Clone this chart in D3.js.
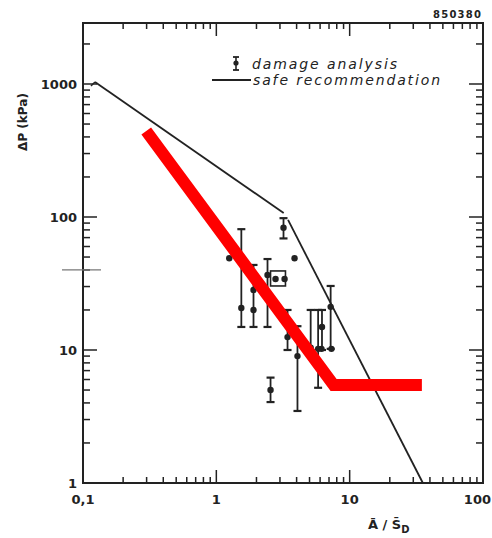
<!DOCTYPE html>
<html>
<head>
<meta charset="utf-8">
<script src="https://cdn.jsdelivr.net/npm/d3@7"></script>
<style>
  body { margin: 0; background: #fff; }
  text { font-family: "DejaVu Sans", sans-serif; fill: #222; }
</style>
</head>
<body>
<div id="myChart"></div>
<script>
// data
const xTicks = [0.1, 1, 10, 100];
const xTickLabels = ["0,1", "1", "10", "100"];
const yTicks = [1, 10, 100, 1000];
const yTickLabels = ["1", "10", "100", "1000"];

// damage analysis: x, y, error low, error high (null = no bar)
const damageX =    [3.19, 1.25, 3.86, 1.54, 1.90, 1.90, 2.42, 2.55, 3.42, 4.06, 2.78, 3.25, 7.2,  7.3,  6.2,  6.15, 5.8,  5.1];
const damageY =    [83,   49,   49,   20.7, 28.3, 20.0, 36.6, 5.0,  12.5, 9.0,  34.2, 34.2, 21.1, 10.2, 14.9, 10.2, 10.2, 10.4];
const damageLow =  [69,   null, null, 14.9, 14.9, null, 14.9, 4.06, 10,   3.48, null, null, 10.2, null, 10,   null, 5.2,  10];
const damageHigh = [98,   null, null, 81,   43.6, null, 48.3, 6.2,  20,   15.1, null, null, 30.3, null, 20,   null, 20,   20];

// box round the pair of points near 3
const boxX = [2.55, 3.30];
const boxY = [30.3, 39.3];

// safe recommendation (two pieces, small break at the knee)
const safeA = [[0.123, 1035], [3.2, 107]];
const safeB = [[3.45, 95], [35.4, 1]];

// red overlay line
const redLine = [[0.298, 443], [7.58, 5.46], [34.8, 5.46]];

let margin = {top: 23, right: 9, bottom: 55, left: 83},
    width = 492 - margin.left - margin.right,
    height = 538 - margin.top - margin.bottom;

let root = d3.select("#myChart")
  .append("svg")
    .attr("width", 492)
    .attr("height", 538);

let svg = root.append("g")
    .attr("transform", `translate(${margin.left}, ${margin.top})`);

const x = d3.scaleLog().domain([0.1, 100]).range([0, width]);
const y = d3.scaleLog().domain([1, 2875]).range([height, 0]);

const ink = "#222";

// minor ticks 2..9 per decade
const minorX = [];
[0.1, 1, 10].forEach(d => { for (let k = 2; k <= 9; k++) minorX.push(d * k); });
const minorY = [];
[1, 10, 100, 1000].forEach(d => { for (let k = 2; k <= 9; k++) if (d * k < 2875) minorY.push(d * k); });

// inward ticks on all four sides
const xb = svg.append("g").attr("transform", `translate(0, ${height})`);
xb.selectAll("line").data(xTicks.concat(minorX)).join("line")
  .attr("x1", d => x(d)).attr("x2", d => x(d))
  .attr("y1", 0).attr("y2", d => xTicks.includes(d) ? -13 : -6)
  .attr("stroke", ink).attr("stroke-width", 1.5);

const xt = svg.append("g");
xt.selectAll("line").data(xTicks.concat(minorX)).join("line")
  .attr("x1", d => x(d)).attr("x2", d => x(d))
  .attr("y1", 0).attr("y2", d => xTicks.includes(d) ? 13 : 6)
  .attr("stroke", ink).attr("stroke-width", 1.5);

const yl = svg.append("g");
yl.selectAll("line").data(yTicks.concat(minorY)).join("line")
  .attr("y1", d => y(d)).attr("y2", d => y(d))
  .attr("x1", 0).attr("x2", d => yTicks.includes(d) ? 14 : 7)
  .attr("stroke", ink).attr("stroke-width", 1.5);

const yr = svg.append("g").attr("transform", `translate(${width}, 0)`);
yr.selectAll("line").data(yTicks.concat(minorY)).join("line")
  .attr("y1", d => y(d)).attr("y2", d => y(d))
  .attr("x1", 0).attr("x2", d => yTicks.includes(d) ? -14 : -7)
  .attr("stroke", ink).attr("stroke-width", 1.5);

// frame
svg.append("rect")
  .attr("x", 0).attr("y", 0)
  .attr("width", width).attr("height", height)
  .attr("fill", "none").attr("stroke", ink).attr("stroke-width", 2);

// tick labels (last one pulled in so it stays on the page)
svg.selectAll(".xlab").data(xTicks).join("text")
  .attr("class", "xlab")
  .attr("x", (d, i) => i === xTicks.length - 1 ? x(d) + 8 : x(d))
  .attr("y", height + 21)
  .attr("text-anchor", (d, i) => i === xTicks.length - 1 ? "end" : "middle")
  .attr("font-size", "13px").attr("font-weight", "bold")
  .text((d, i) => xTickLabels[i]);

svg.selectAll(".ylab").data(yTicks).join("text")
  .attr("class", "ylab")
  .attr("x", -6).attr("y", d => y(d) + 5)
  .attr("text-anchor", "end")
  .attr("font-size", "13px").attr("font-weight", "bold")
  .text((d, i) => yTickLabels[i]);

// stray scan mark on the left axis
svg.append("line")
  .attr("x1", -21).attr("x2", 18)
  .attr("y1", y(40)).attr("y2", y(40))
  .attr("stroke", "#777").attr("stroke-width", 1.2);

// axis titles
root.append("text")
  .attr("transform", "translate(27, 122) rotate(-90)")
  .attr("text-anchor", "middle")
  .attr("font-size", "12px").attr("font-weight", "bold")
  .text("ΔP (kPa)");

const xt2 = root.append("text")
  .attr("x", 368).attr("y", 529)
  .attr("font-size", "13px").attr("font-weight", "bold");
xt2.append("tspan").text("Ā / S̄");
xt2.append("tspan").attr("font-size", "10px").attr("dy", 4).text("D");

root.append("text")
  .attr("x", 433).attr("y", 18)
  .attr("font-size", "10px").attr("font-weight", "bold")
  .attr("textLength", 48)
  .text("850380");

// safe recommendation
const line = d3.line().x(d => x(d[0])).y(d => y(d[1]));
[safeA, safeB].forEach(seg => {
  svg.append("path")
    .attr("d", line(seg))
    .attr("fill", "none").attr("stroke", ink).attr("stroke-width", 1.8);
});
// small hook at the start
svg.append("path")
  .attr("d", `M${x(0.123)},${y(1035)} l-4,4`)
  .attr("stroke", ink).attr("stroke-width", 1.5);

// damage analysis points
const idx = d3.range(damageX.length);
const cap = 4;
const bars = svg.append("g").attr("stroke", ink).attr("stroke-width", 1.8);
idx.filter(i => damageLow[i] !== null).forEach(i => {
  const cx = x(damageX[i]);
  bars.append("line").attr("x1", cx).attr("x2", cx)
    .attr("y1", y(damageLow[i])).attr("y2", y(damageHigh[i]));
  [damageLow[i], damageHigh[i]].forEach(v => {
    bars.append("line").attr("x1", cx - cap).attr("x2", cx + cap)
      .attr("y1", y(v)).attr("y2", y(v)).attr("stroke-width", 2.2);
  });
});

svg.append("rect")
  .attr("x", x(boxX[0])).attr("y", y(boxY[1]))
  .attr("width", x(boxX[1]) - x(boxX[0]))
  .attr("height", y(boxY[0]) - y(boxY[1]))
  .attr("fill", "none").attr("stroke", ink).attr("stroke-width", 1.6);

svg.selectAll(".dot").data(idx).join("circle")
  .attr("class", "dot")
  .attr("cx", i => x(damageX[i])).attr("cy", i => y(damageY[i]))
  .attr("r", 3.2).attr("fill", ink);

// legend
const lg = root.append("g");
lg.append("line").attr("x1", 236).attr("x2", 236).attr("y1", 57).attr("y2", 70)
  .attr("stroke", ink).attr("stroke-width", 1.6);
[57, 70].forEach(v => lg.append("line").attr("x1", 233).attr("x2", 239)
  .attr("y1", v).attr("y2", v).attr("stroke", ink).attr("stroke-width", 1.8));
lg.append("circle").attr("cx", 236).attr("cy", 63).attr("r", 2.6).attr("fill", ink);
lg.append("text").attr("x", 252).attr("y", 69)
  .attr("font-size", "14px").attr("font-style", "italic")
  .attr("textLength", 145).text("damage analysis");
lg.append("line").attr("x1", 212).attr("x2", 251).attr("y1", 80).attr("y2", 80)
  .attr("stroke", ink).attr("stroke-width", 1.8);
lg.append("text").attr("x", 253).attr("y", 85)
  .attr("font-size", "14px").attr("font-style", "italic")
  .attr("textLength", 187).text("safe recommendation");

// red overlay
svg.append("path")
  .attr("d", line(redLine))
  .attr("fill", "none").attr("stroke", "#ff0000")
  .attr("stroke-width", 12).attr("stroke-linejoin", "miter");
</script>
</body>
</html>
